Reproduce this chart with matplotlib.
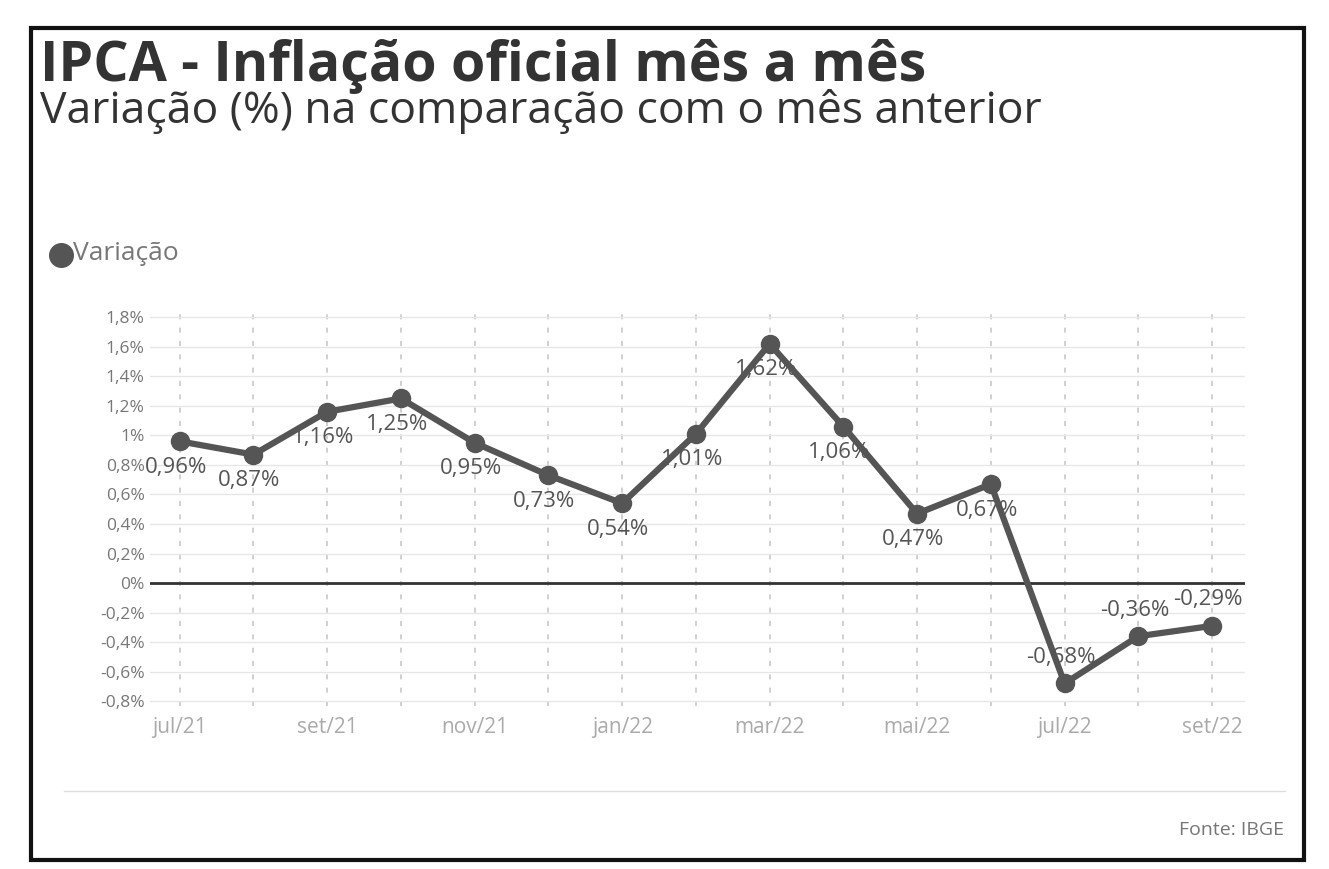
import matplotlib.pyplot as plt
from matplotlib.patches import Rectangle
from matplotlib.lines import Line2D

# data
months = ['jul/21', 'ago/21', 'set/21', 'out/21', 'nov/21', 'dez/21', 'jan/22',
          'fev/22', 'mar/22', 'abr/22', 'mai/22', 'jun/22', 'jul/22', 'ago/22', 'set/22']
values = [0.96, 0.87, 1.16, 1.25, 0.95, 0.73, 0.54, 1.01, 1.62, 1.06, 0.47, 0.67, -0.68, -0.36, -0.29]
yticks = [-0.8, -0.6, -0.4, -0.2, 0, 0.2, 0.4, 0.6, 0.8, 1, 1.2, 1.4, 1.6, 1.8]

plt.rcParams['font.family'] = ['Open Sans', 'DejaVu Sans']

fig = plt.figure(figsize=(13.29, 8.69), dpi=100)
ax = fig.add_axes([0.113, 0.188, 0.824, 0.452])

x = list(range(len(months)))
ax.plot(x, values, color='#555555', lw=4.5, marker='o', ms=13, zorder=5)
ax.axhline(0, color='#333333', lw=2, zorder=4)

# data labels - below the point, above for negatives
for i, v in enumerate(values):
    txt = f'{v:.2f}'.replace('.', ',') + '%'
    dy = -26 if v >= 0 else 26
    ax.annotate(txt, (i, v), xytext=(-4, dy), textcoords='offset pixels',
                ha='center', va='center', fontsize=16, color='#555555', zorder=6)

def fmt(t):
    if t == int(t):
        return f'{int(t)}%'
    return f'{t:.1f}'.replace('.', ',') + '%'

ax.set_yticks(yticks)
ax.set_yticklabels([fmt(t) for t in yticks], fontsize=12.5, color='#777777')
ax.set_xticks(x[::2])
ax.set_xticklabels(months[::2], fontsize=15, color='#aaaaaa')
ax.set_xticks(x, minor=True)
ax.set_xlim(-0.4, 14.45)
ax.set_ylim(-0.83, 1.83)
ax.tick_params(axis='y', length=0, pad=4)
ax.tick_params(axis='x', length=0, pad=8, which='both')
ax.grid(axis='y', color='#e6e6e6', lw=1)
ax.grid(axis='x', which='both', color='#c8c8c8', lw=1.2, ls=(0, (3, 5)))
for s in ax.spines.values():
    s.set_visible(False)
ax.set_axisbelow(True)

# titles
fig.text(0.030, 0.924, 'IPCA - Inflação oficial mês a mês', fontsize=40,
         fontweight='bold', color='#333333', va='center')
fig.text(0.030, 0.872, 'Variação (%) na comparação com o mês anterior', fontsize=32,
         color='#333333', va='center')

# legend
fig.add_artist(Line2D([0.046], [0.706], marker='o', ms=17, color='#555555', transform=fig.transFigure))
fig.text(0.055, 0.708, 'Variação', fontsize=19, color='#777777', va='center')

# footer
fig.add_artist(Line2D([0.048, 0.967], [0.09, 0.09], color='#dddddd', lw=1, transform=fig.transFigure))
fig.text(0.966, 0.045, 'Fonte: IBGE', fontsize=14, color='#777777', ha='right', va='center')

# frame
fig.add_artist(Rectangle((0.023, 0.01), 0.958, 0.958, fill=False, ec='#111111', lw=3,
                         transform=fig.transFigure))

fig.savefig('out.png', dpi=100)
